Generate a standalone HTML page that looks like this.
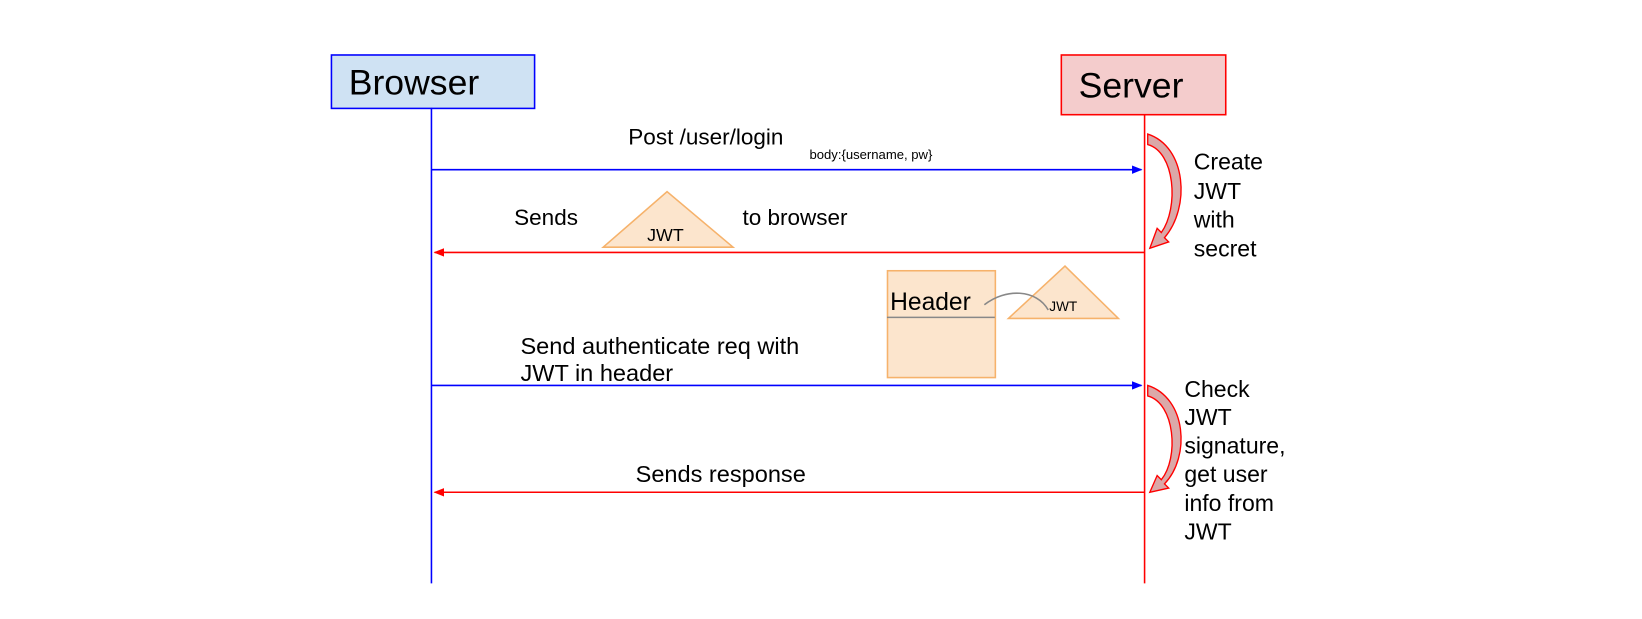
<!DOCTYPE html>
<html><head><meta charset="utf-8"><style>
html,body{margin:0;padding:0;background:#fff;}
svg{display:block;font-family:"Liberation Sans",Arial,sans-serif;}
</style></head><body>
<svg width="1642" height="619" viewBox="0 0 1568 591" preserveAspectRatio="none" xmlns="http://www.w3.org/2000/svg">
<defs>
<marker id="ab" markerWidth="10" markerHeight="8" refX="9" refY="4" orient="auto" markerUnits="userSpaceOnUse"><path d="M0,0 L10,4 L0,8 z" fill="#0000ff"/></marker>
<marker id="ar" markerWidth="10" markerHeight="8" refX="9" refY="4" orient="auto" markerUnits="userSpaceOnUse"><path d="M0,0 L10,4 L0,8 z" fill="#ff0000"/></marker>
</defs>
<rect x="316.5" y="52.5" width="194" height="51" fill="#cfe2f3" stroke="#0000ff" stroke-width="1.5"/>
<text x="333" y="90" font-size="34" fill="#000">Browser</text>
<rect x="1013.5" y="52.5" width="157" height="57" fill="#f4cccc" stroke="#ff0000" stroke-width="1.5"/>
<text x="1030" y="93" font-size="34" fill="#000">Server</text>
<line x1="412" y1="103" x2="412" y2="557" stroke="#0000ff" stroke-width="1.5"/>
<line x1="1093" y1="109" x2="1093" y2="557" stroke="#ff0000" stroke-width="1.5"/>
<line x1="412" y1="162" x2="1090" y2="162" stroke="#0000ff" stroke-width="1.5" marker-end="url(#ab)"/>
<line x1="1093" y1="241" x2="415" y2="241" stroke="#ff0000" stroke-width="1.5" marker-end="url(#ar)"/>
<line x1="412" y1="368" x2="1090" y2="368" stroke="#0000ff" stroke-width="1.5" marker-end="url(#ab)"/>
<line x1="1093" y1="470" x2="415" y2="470" stroke="#ff0000" stroke-width="1.5" marker-end="url(#ar)"/>
<text x="600" y="138" font-size="21.5">Post /user/login</text>
<text x="773" y="152" font-size="12.5">body:{username, pw}</text>
<text x="491" y="215" font-size="21.5">Sends</text>
<polygon points="576,236 637,183 700,236" fill="#fce5cd" stroke="#f6b26b" stroke-width="1.5"/>
<text x="618" y="230" font-size="17">JWT</text>
<text x="709" y="215" font-size="21.5">to browser</text>
<rect x="847.5" y="258.5" width="103" height="102" fill="#fce5cd" stroke="#f6b26b" stroke-width="1.5"/>
<line x1="847" y1="303" x2="950" y2="303" stroke="#888" stroke-width="1.5"/>
<text x="850" y="296" font-size="23.5">Header</text>
<polygon points="963,304 1017,254 1068,304" fill="#fce5cd" stroke="#f6b26b" stroke-width="1.5"/>
<text x="1002" y="297" font-size="13">JWT</text>
<path d="M940,291 C960,275 990,276 1001,296" fill="none" stroke="#888" stroke-width="1.5"/>
<text x="497" y="338" font-size="22.5">Send authenticate req with</text>
<text x="497" y="364" font-size="22.5">JWT in header</text>
<text x="607" y="460" font-size="22.5">Sends response</text>
<g font-size="22">
<text x="1140" y="162">Create</text><text x="1140" y="190">JWT</text><text x="1140" y="217">with</text><text x="1140" y="245">secret</text>
<text x="1131" y="379">Check</text><text x="1131" y="406">JWT</text><text x="1131" y="433">signature,</text><text x="1131" y="460">get user</text><text x="1131" y="488">info from</text><text x="1131" y="515">JWT</text>
</g>
<path d="M1096,128 L1096,138 C1122,145 1126,198 1109,222 L1105,218 L1098,237 L1116,231 L1112,227 C1137,198 1133,140 1096,128 Z" fill="#dba8a8" stroke="#ff0000" stroke-width="1.3"/>
<path d="M1096,368 L1096,378 C1122,385 1126,437 1109,458 L1105,454 L1098,470 L1116,466 L1112,462 C1137,436 1133,380 1096,368 Z" fill="#dba8a8" stroke="#ff0000" stroke-width="1.3"/>
</svg>
</body></html>
